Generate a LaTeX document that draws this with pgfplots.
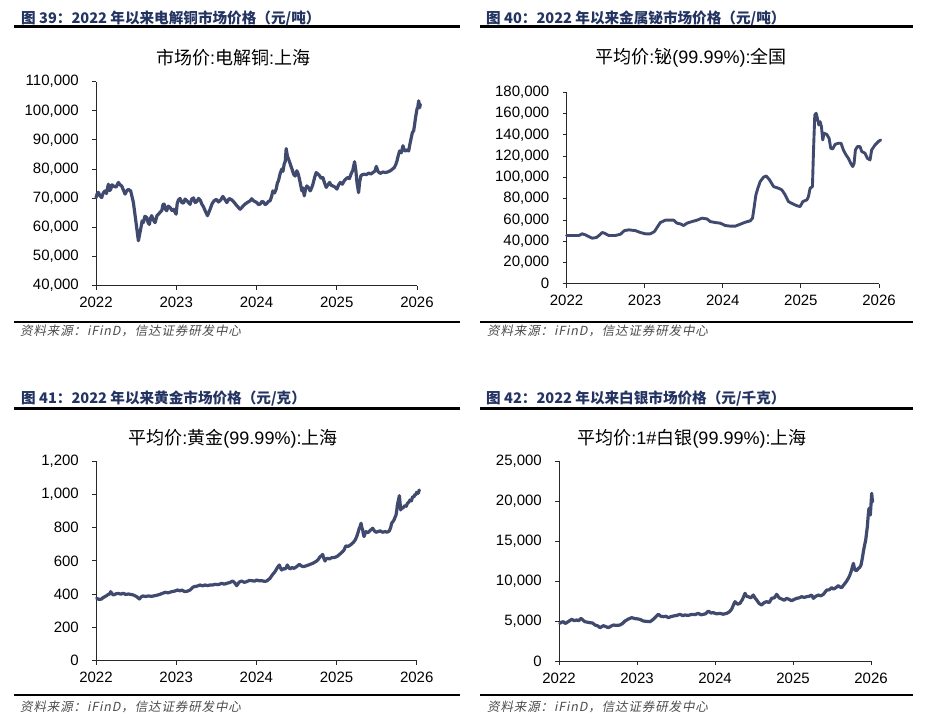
\documentclass[border=0pt]{standalone}
\usepackage{fontspec}
\setmainfont{Liberation Sans}
\newfontfamily\cjk{Noto Sans CJK SC}
\newfontfamily\cjks[FakeSlant=0.2, LetterSpace=7]{Noto Sans CJK SC}
\usepackage{pgfplots}
\pgfplotsset{compat=1.18}
\definecolor{linec}{RGB}{64,74,110}
\definecolor{navy}{RGB}{35,52,98}
\definecolor{axc}{RGB}{40,40,40}
\pgfplotsset{panel/.style={
  scale only axis, axis lines=left, axis line style={-, axc, line width=1pt},
  tick align=outside, major tick length=4pt, tick style={axc, line width=0.9pt},
  xmin=2022, xmax=2026, xtick={2022,2023,2024,2025,2026},
  /pgf/number format/assume math mode=true,
  tick label style={font=\fontsize{15}{18}\selectfont, text=black},
  xticklabel style={anchor=north, inner sep=0pt, yshift=-7.5pt, /pgf/number format/1000 sep={}},
  yticklabel style={anchor=east, inner sep=0pt, xshift=-13pt, /pgf/number format/fixed, /pgf/number format/1000 sep={,}},
  scaled y ticks=false, clip=false,
}, ln/.style={linec, line width=3.2pt, line join=round, line cap=round, no markers}}
\newcommand{\hdr}[3]{\node[anchor=west, inner sep=0pt, text=navy] at (#1pt,-#2pt) {\fontsize{14.6}{16}\selectfont\cjk\bfseries #3};}
\newcommand{\src}[2]{\node[anchor=west, inner sep=0pt, text=black!70] at (#1pt,-#2pt) {\fontsize{12.5}{14}\selectfont\cjks 资料来源：iFinD，信达证券研发中心};}
\begin{document}
\begin{tikzpicture}
% ---------- headers and rules ----------
\hdr{21}{18}{图 39：2022 年以来电解铜市场价格（元/吨）}
\hdr{486}{18}{图 40：2022 年以来金属铋市场价格（元/吨）}
\hdr{21}{398.5}{图 41：2022 年以来黄金市场价格（元/克）}
\hdr{486}{398.5}{图 42：2022 年以来白银市场价格（元/千克）}
\draw[black, line width=2.2pt] (14pt,-26.5pt) -- (460pt,-26.5pt);
\draw[black, line width=2.2pt] (480pt,-26.5pt) -- (913pt,-26.5pt);
\draw[black, line width=2.2pt] (14pt,-408.5pt) -- (460pt,-408.5pt);
\draw[black, line width=2.2pt] (480pt,-408.5pt) -- (913pt,-408.5pt);
\draw[black, line width=2pt] (14pt,-321.7pt) -- (460pt,-321.7pt);
\draw[black, line width=2pt] (480pt,-321.7pt) -- (913pt,-321.7pt);
\draw[black, line width=1.3pt] (14pt,-695pt) -- (460pt,-695pt);
\draw[black, line width=1.3pt] (480pt,-695pt) -- (913pt,-695pt);
\src{20}{331}
\src{487}{331}
\src{20}{707}
\src{487}{707}
% ---------- titles ----------
\node at (233pt,-57.5pt) {\fontsize{18}{20}\selectfont{\cjk 市场价}:{\cjk 电解铜}:{\cjk 上海}};
\node at (691pt,-57.5pt) {\fontsize{18}{20}\selectfont{\cjk 平均价}:{\cjk 铋}(99.99\%):{\cjk 全国}};
\node at (233pt,-439pt) {\fontsize{18}{20}\selectfont{\cjk 平均价}:{\cjk 黄金}(99.99\%):{\cjk 上海}};
\node at (692pt,-439pt) {\fontsize{18}{20}\selectfont{\cjk 平均价}:1\#{\cjk 白银}(99.99\%):{\cjk 上海}};
% ---------- panel 1: copper ----------
\begin{axis}[panel, at={(96pt,-285.6pt)}, anchor=south west, width=321pt, height=204pt,
  ymin=40000, ymax=110000, ytick={40000,50000,60000,70000,80000,90000,100000,110000}]
\addplot[ln] coordinates {(2022.000,70200) (2022.015,71500) (2022.029,72000) (2022.050,70800) (2022.071,70200) (2022.090,71800) (2022.112,72500) (2022.130,71600) (2022.154,74800) (2022.170,72600) (2022.183,73000) (2022.200,74600) (2022.216,74200) (2022.250,73800) (2022.279,75400) (2022.300,74600) (2022.320,74200) (2022.340,72900) (2022.362,71400) (2022.385,72600) (2022.403,73000) (2022.432,72500) (2022.466,68500) (2022.499,61600) (2022.528,55400) (2022.557,59400) (2022.575,62200) (2022.590,61600) (2022.610,63800) (2022.632,63400) (2022.650,61500) (2022.665,61000) (2022.680,63200) (2022.694,64000) (2022.715,62500) (2022.736,61600) (2022.760,64000) (2022.778,64500) (2022.800,65200) (2022.819,65700) (2022.835,67800) (2022.848,68000) (2022.865,66200) (2022.881,65700) (2022.900,67300) (2022.923,66800) (2022.945,65800) (2022.965,66200) (2022.998,64500) (2023.012,68200) (2023.027,69400) (2023.048,69900) (2023.069,68500) (2023.090,68300) (2023.110,69700) (2023.130,69200) (2023.152,68500) (2023.172,67900) (2023.193,69700) (2023.215,70100) (2023.235,68500) (2023.255,68800) (2023.277,69900) (2023.300,69300) (2023.318,68000) (2023.340,67000) (2023.360,65700) (2023.389,64000) (2023.422,66200) (2023.448,68200) (2023.472,69100) (2023.500,69600) (2023.526,68700) (2023.555,69400) (2023.580,70600) (2023.605,69600) (2023.630,68500) (2023.660,69900) (2023.692,69400) (2023.720,68600) (2023.755,67400) (2023.796,66200) (2023.830,67200) (2023.859,68000) (2023.890,68600) (2023.921,69100) (2023.940,69800) (2023.963,69100) (2024.004,68500) (2024.025,67800) (2024.046,68000) (2024.067,68900) (2024.087,68700) (2024.108,67800) (2024.129,68200) (2024.150,68900) (2024.170,69100) (2024.188,70600) (2024.204,72500) (2024.225,71800) (2024.245,73100) (2024.260,75200) (2024.274,76000) (2024.295,78500) (2024.316,80000) (2024.330,79200) (2024.345,81700) (2024.358,82600) (2024.370,87000) (2024.385,84500) (2024.399,83400) (2024.414,82300) (2024.428,81100) (2024.445,79800) (2024.462,78200) (2024.482,77600) (2024.503,79400) (2024.520,78300) (2024.536,76500) (2024.550,74500) (2024.565,72500) (2024.580,73500) (2024.595,70800) (2024.612,73200) (2024.628,74200) (2024.650,73600) (2024.669,72500) (2024.688,73600) (2024.703,74800) (2024.725,77200) (2024.744,78800) (2024.765,78300) (2024.786,77700) (2024.806,76800) (2024.827,77100) (2024.848,75200) (2024.869,73700) (2024.890,74600) (2024.911,75400) (2024.932,74400) (2024.952,74200) (2024.978,73800) (2025.002,73100) (2025.022,74500) (2025.044,75400) (2025.070,74800) (2025.094,76000) (2025.115,76600) (2025.135,77100) (2025.157,76700) (2025.177,78200) (2025.200,79600) (2025.222,82500) (2025.238,79500) (2025.252,75400) (2025.272,71900) (2025.285,75500) (2025.301,77700) (2025.320,78100) (2025.343,78200) (2025.370,78100) (2025.397,78600) (2025.425,78300) (2025.451,78800) (2025.475,79300) (2025.493,80900) (2025.515,79100) (2025.543,78500) (2025.575,79000) (2025.605,78800) (2025.635,79000) (2025.667,79400) (2025.690,79900) (2025.717,80500) (2025.735,81500) (2025.751,82800) (2025.768,84800) (2025.784,86200) (2025.805,85600) (2025.825,88000) (2025.840,86500) (2025.855,86200) (2025.875,86600) (2025.896,86200) (2025.912,88600) (2025.925,90300) (2025.942,92500) (2025.958,93100) (2025.969,95000) (2025.979,97100) (2025.990,99000) (2026.000,100600) (2026.010,101200) (2026.021,103400) (2026.032,101000) (2026.042,102200)};
\end{axis}
% ---------- panel 2: bismuth ----------
\begin{axis}[panel, at={(566.5pt,-283.8pt)}, anchor=south west, width=312.5pt, height=191.5pt,
  ymin=0, ymax=180000, ytick={0,20000,40000,60000,80000,100000,120000,140000,160000,180000}]
\addplot[ln, line width=2.9pt] coordinates {(2022.000,45400) (2022.094,45400) (2022.158,45400) (2022.200,47000) (2022.243,46000) (2022.285,44400) (2022.328,42900) (2022.383,43500) (2022.426,46000) (2022.456,48200) (2022.486,47600) (2022.541,45400) (2022.626,45400) (2022.690,46600) (2022.741,50000) (2022.797,50700) (2022.882,50000) (2022.946,48200) (2023.010,47000) (2023.074,47000) (2023.125,49100) (2023.167,53800) (2023.201,57600) (2023.265,59800) (2023.372,59800) (2023.414,57000) (2023.457,56300) (2023.500,54800) (2023.542,57000) (2023.606,58500) (2023.670,59800) (2023.734,61700) (2023.798,61000) (2023.840,58500) (2023.904,57600) (2023.968,57000) (2024.032,54800) (2024.096,54200) (2024.160,54200) (2024.224,56000) (2024.288,57900) (2024.352,59200) (2024.381,61700) (2024.403,72600) (2024.424,83600) (2024.449,89800) (2024.479,96100) (2024.522,100200) (2024.556,101400) (2024.599,97700) (2024.650,91400) (2024.714,89800) (2024.756,88300) (2024.799,83600) (2024.841,77300) (2024.905,74800) (2024.956,73200) (2024.990,72600) (2025.025,77300) (2025.076,78900) (2025.097,82000) (2025.118,89800) (2025.148,91400) (2025.161,124000) (2025.178,158700) (2025.195,160300) (2025.212,155600) (2025.229,149300) (2025.246,152400) (2025.263,147700) (2025.280,135200) (2025.297,141500) (2025.331,140500) (2025.361,136800) (2025.382,127400) (2025.408,126800) (2025.438,131100) (2025.480,132100) (2025.514,132100) (2025.544,125800) (2025.578,121100) (2025.608,118000) (2025.638,113300) (2025.664,110200) (2025.681,113300) (2025.698,125800) (2025.723,129000) (2025.757,129000) (2025.779,124300) (2025.821,122700) (2025.851,118000) (2025.885,116400) (2025.906,125800) (2025.949,130500) (2025.992,133700) (2026.021,135200)};
\end{axis}
% ---------- panel 3: gold ----------
\begin{axis}[panel, at={(96pt,-660.7pt)}, anchor=south west, width=320.7pt, height=199.7pt,
  ymin=0, ymax=1200, ytick={0,200,400,600,800,1000,1200}]
\addplot[ln] coordinates {(2022.008,375) (2022.040,368) (2022.071,371) (2022.090,380) (2022.112,385) (2022.135,392) (2022.154,399) (2022.170,400) (2022.183,415) (2022.200,402) (2022.216,395) (2022.250,402) (2022.279,405) (2022.310,400) (2022.341,405) (2022.370,398) (2022.403,401) (2022.435,398) (2022.466,395) (2022.507,385) (2022.541,371) (2022.560,382) (2022.582,389) (2022.620,386) (2022.653,389) (2022.695,387) (2022.736,391) (2022.765,394) (2022.798,399) (2022.830,405) (2022.861,411) (2022.900,408) (2022.944,415) (2022.980,418) (2023.015,425) (2023.045,420) (2023.069,425) (2023.090,419) (2023.110,415) (2023.140,418) (2023.173,425) (2023.200,438) (2023.222,445) (2023.260,448) (2023.297,455) (2023.330,450) (2023.360,455) (2023.390,451) (2023.422,455) (2023.455,455) (2023.484,459) (2023.525,457) (2023.568,465) (2023.600,460) (2023.630,465) (2023.670,470) (2023.705,479) (2023.730,468) (2023.755,451) (2023.785,472) (2023.817,479) (2023.850,471) (2023.879,475) (2023.910,482) (2023.942,481) (2023.975,478) (2024.004,485) (2024.035,480) (2024.067,481) (2024.100,477) (2024.129,479) (2024.170,495) (2024.204,519) (2024.225,530) (2024.245,545) (2024.265,562) (2024.287,575) (2024.300,558) (2024.316,545) (2024.338,553) (2024.358,551) (2024.372,560) (2024.387,575) (2024.403,560) (2024.420,551) (2024.445,560) (2024.470,555) (2024.505,566) (2024.536,579) (2024.560,570) (2024.586,565) (2024.620,570) (2024.649,575) (2024.675,580) (2024.703,585) (2024.728,592) (2024.753,599) (2024.775,610) (2024.794,625) (2024.812,630) (2024.827,639) (2024.842,615) (2024.857,599) (2024.870,612) (2024.886,615) (2024.912,612) (2024.940,619) (2024.970,620) (2025.002,625) (2025.028,635) (2025.052,645) (2025.075,655) (2025.094,665) (2025.108,682) (2025.119,691) (2025.140,686) (2025.160,691) (2025.185,700) (2025.210,711) (2025.232,725) (2025.252,746) (2025.268,770) (2025.281,792) (2025.293,805) (2025.306,826) (2025.316,800) (2025.326,786) (2025.335,760) (2025.343,746) (2025.355,762) (2025.368,776) (2025.383,770) (2025.397,772) (2025.425,785) (2025.451,796) (2025.472,780) (2025.493,772) (2025.518,776) (2025.543,780) (2025.575,772) (2025.605,776) (2025.630,772) (2025.659,780) (2025.675,800) (2025.688,826) (2025.703,836) (2025.717,846) (2025.730,862) (2025.742,876) (2025.752,905) (2025.759,936) (2025.772,965) (2025.784,992) (2025.792,950) (2025.800,906) (2025.812,918) (2025.825,916) (2025.840,925) (2025.855,932) (2025.870,928) (2025.884,946) (2025.900,952) (2025.917,966) (2025.933,960) (2025.950,986) (2025.965,984) (2025.979,1000) (2025.990,998) (2026.000,1012) (2026.018,1006) (2026.033,1026)};
\end{axis}
% ---------- panel 4: silver ----------
\begin{axis}[panel, at={(559pt,-661pt)}, anchor=south west, width=312pt, height=200pt,
  ymin=0, ymax=25000, ytick={0,5000,10000,15000,20000,25000}]
\addplot[ln] coordinates {(2022.009,4709) (2022.032,4850) (2022.056,4917) (2022.078,4700) (2022.098,4792) (2022.130,5000) (2022.162,5209) (2022.195,5050) (2022.226,5125) (2022.255,5050) (2022.282,5334) (2022.308,5100) (2022.333,4917) (2022.365,4850) (2022.397,4792) (2022.430,4750) (2022.462,4500) (2022.495,4400) (2022.526,4167) (2022.548,4300) (2022.568,4417) (2022.600,4300) (2022.632,4167) (2022.665,4350) (2022.697,4500) (2022.740,4450) (2022.782,4500) (2022.815,4700) (2022.846,5000) (2022.890,5250) (2022.932,5417) (2022.975,5300) (2023.017,5250) (2023.050,5150) (2023.081,5000) (2023.125,4950) (2023.167,4917) (2023.195,5100) (2023.222,5334) (2023.250,5600) (2023.274,5834) (2023.305,5600) (2023.338,5542) (2023.370,5600) (2023.402,5417) (2023.435,5550) (2023.466,5625) (2023.510,5700) (2023.551,5834) (2023.585,5680) (2023.615,5750) (2023.658,5700) (2023.701,5834) (2023.745,5800) (2023.786,5959) (2023.820,5780) (2023.850,5834) (2023.880,5900) (2023.915,6250) (2023.948,6000) (2023.979,6042) (2024.020,5900) (2024.064,5959) (2024.105,5850) (2024.150,5959) (2024.185,6150) (2024.214,6500) (2024.236,7000) (2024.256,7417) (2024.290,7100) (2024.320,7209) (2024.352,7700) (2024.385,8459) (2024.405,8100) (2024.427,8042) (2024.460,7900) (2024.491,8250) (2024.512,7900) (2024.534,7625) (2024.565,7200) (2024.598,7000) (2024.630,7300) (2024.662,7417) (2024.695,7300) (2024.726,7834) (2024.760,7900) (2024.791,8334) (2024.822,7900) (2024.855,7750) (2024.888,7600) (2024.919,7834) (2024.950,7700) (2024.983,7542) (2025.015,7700) (2025.047,7834) (2025.080,7900) (2025.111,8042) (2025.143,7950) (2025.175,8042) (2025.208,8100) (2025.239,8250) (2025.250,8050) (2025.261,7834) (2025.293,8100) (2025.325,8250) (2025.358,8150) (2025.389,8334) (2025.410,8600) (2025.432,8875) (2025.465,8900) (2025.496,9167) (2025.518,9000) (2025.538,9084) (2025.560,9250) (2025.581,9417) (2025.602,9250) (2025.624,9167) (2025.645,9450) (2025.667,9709) (2025.688,10000) (2025.709,10334) (2025.727,10700) (2025.744,11167) (2025.760,11700) (2025.774,12209) (2025.785,11700) (2025.795,11375) (2025.816,11300) (2025.838,11584) (2025.855,11700) (2025.872,12000) (2025.888,12800) (2025.902,13667) (2025.918,14500) (2025.932,15126) (2025.943,16000) (2025.953,16793) (2025.964,18200) (2025.974,19085) (2025.982,18600) (2025.991,18252) (2026.000,19600) (2026.009,20960) (2026.015,20300) (2026.021,19918)};
\end{axis}
\pgfresetboundingbox
\path (0pt,0pt) rectangle (925pt,-724pt);
\end{tikzpicture}
\end{document}
